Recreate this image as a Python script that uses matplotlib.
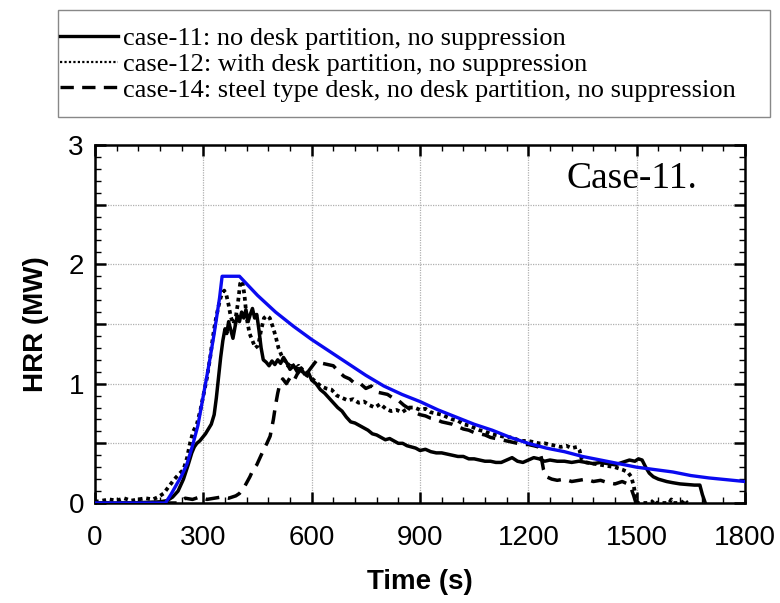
import matplotlib
matplotlib.use('Agg')
import matplotlib.pyplot as plt
from matplotlib.ticker import MultipleLocator, FuncFormatter
from matplotlib.lines import Line2D
from matplotlib.patches import Rectangle

# Curva de diseño (azul)
t_diseno = [0, 195, 210, 225, 240, 255, 270, 285, 300, 315, 330, 345, 352, 400,
            450, 500, 550, 600, 650, 700, 750, 800, 850, 900, 950, 1000, 1050,
            1100, 1150, 1200, 1250, 1300, 1350, 1400, 1450, 1500, 1550, 1600,
            1650, 1700, 1750, 1800]
hrr_diseno = [0, 0, 0.07, 0.15, 0.23, 0.33, 0.48, 0.65, 0.9, 1.15, 1.42, 1.72,
              1.9, 1.9, 1.74, 1.6, 1.48, 1.37, 1.27, 1.17, 1.07, 0.98, 0.91,
              0.85, 0.78, 0.72, 0.66, 0.61, 0.55, 0.5, 0.46, 0.43, 0.39, 0.36,
              0.33, 0.3, 0.28, 0.26, 0.23, 0.21, 0.195, 0.18]

# case-11
t_case11 = [0, 100, 180, 200, 215, 230, 245, 258, 268, 275, 282, 290, 298, 306,
            314, 322, 330, 336, 342, 348, 354, 360, 365, 370, 376, 382, 388,
            394, 400, 406, 412, 418, 424, 430, 436, 442, 448, 454, 460, 466,
            474, 482, 490, 498, 506, 514, 522, 530, 540, 550, 560, 570, 580,
            590, 600, 612, 624, 636, 648, 660, 672, 684, 696, 708, 720, 732,
            744, 756, 768, 780, 792, 804, 816, 828, 840, 852, 864, 876, 888,
            900, 915, 930, 945, 960, 975, 990, 1005, 1020, 1035, 1050, 1065,
            1080, 1095, 1110, 1125, 1140, 1155, 1170, 1185, 1200, 1215, 1230,
            1245, 1260, 1280, 1300, 1320, 1340, 1360, 1380, 1400, 1420, 1440,
            1460, 1480, 1495, 1505, 1515, 1525, 1535, 1546, 1560, 1583, 1600,
            1620, 1640, 1660, 1675, 1682, 1690]
hrr_case11 = [0, 0, 0.01, 0.02, 0.05, 0.1, 0.2, 0.32, 0.42, 0.47, 0.5, 0.52,
              0.55, 0.58, 0.62, 0.66, 0.74, 0.88, 1.05, 1.22, 1.36, 1.46, 1.42,
              1.52, 1.45, 1.38, 1.48, 1.57, 1.52, 1.6, 1.55, 1.62, 1.52, 1.58,
              1.63, 1.55, 1.58, 1.45, 1.3, 1.2, 1.18, 1.15, 1.19, 1.16, 1.2,
              1.17, 1.22, 1.18, 1.12, 1.15, 1.1, 1.13, 1.08, 1.1, 1.03, 1.0,
              0.95, 0.92, 0.88, 0.84, 0.8, 0.77, 0.72, 0.68, 0.67, 0.65, 0.63,
              0.61, 0.58, 0.57, 0.55, 0.53, 0.54, 0.52, 0.5, 0.5, 0.48, 0.47,
              0.46, 0.44, 0.45, 0.43, 0.42, 0.42, 0.41, 0.4, 0.39, 0.39, 0.37,
              0.37, 0.36, 0.35, 0.35, 0.34, 0.34, 0.36, 0.38, 0.35, 0.34, 0.36,
              0.38, 0.37, 0.35, 0.36, 0.35, 0.35, 0.34, 0.35, 0.34, 0.33, 0.34,
              0.33, 0.32, 0.34, 0.36, 0.35, 0.37, 0.36, 0.3, 0.25, 0.22, 0.2,
              0.18, 0.17, 0.16, 0.155, 0.15, 0.15, 0.07, 0.0]

# case-12
t_case12 = [0, 20, 40, 60, 80, 100, 120, 140, 160, 175, 190, 200, 210, 220,
            232, 245, 255, 263, 272, 282, 292, 300, 310, 319, 326, 332, 340,
            346, 352, 358, 364, 370, 376, 383, 390, 396, 402, 408, 414, 420,
            428, 436, 444, 452, 460, 468, 476, 484, 492, 500, 508, 516, 524,
            534, 544, 554, 564, 574, 586, 598, 610, 625, 640, 655, 670, 685,
            700, 715, 730, 745, 760, 775, 790, 805, 820, 835, 850, 870, 885,
            900, 915, 930, 945, 960, 975, 990, 1005, 1020, 1035, 1050, 1065,
            1080, 1095, 1110, 1125, 1140, 1155, 1170, 1185, 1200, 1215, 1230,
            1245, 1260, 1275, 1290, 1305, 1320, 1335, 1342, 1348, 1360, 1380,
            1400, 1420, 1440, 1460, 1475, 1485, 1492, 1497, 1502, 1540, 1548,
            1556, 1590, 1596, 1602, 1625, 1632, 1640]
hrr_case12 = [0.01, 0.02, 0.03, 0.02, 0.04, 0.02, 0.03, 0.04, 0.03, 0.05,
              0.08, 0.12, 0.16, 0.2, 0.24, 0.28, 0.38, 0.5, 0.6, 0.66, 0.78,
              0.9, 1.05, 1.22, 1.38, 1.5, 1.62, 1.7, 1.76, 1.78, 1.74, 1.66,
              1.56, 1.5, 1.56, 1.68, 1.84, 1.86, 1.74, 1.55, 1.42, 1.36, 1.3,
              1.32, 1.45, 1.55, 1.57, 1.55, 1.48, 1.4, 1.3, 1.24, 1.2, 1.15,
              1.18, 1.12, 1.15, 1.1, 1.07, 1.05, 1.02, 0.98, 0.96, 0.95, 0.9,
              0.88, 0.86, 0.87, 0.84, 0.85, 0.82, 0.8, 0.83, 0.79, 0.77, 0.78,
              0.76, 0.8, 0.8, 0.78, 0.79, 0.76, 0.75, 0.74, 0.72, 0.7, 0.69,
              0.66, 0.65, 0.63, 0.61, 0.6, 0.58, 0.57, 0.56, 0.55, 0.55, 0.53,
              0.52, 0.52, 0.51, 0.5, 0.5, 0.49, 0.48, 0.47, 0.48, 0.46, 0.47,
              0.44, 0.36, 0.34, 0.33, 0.32, 0.31, 0.3, 0.28, 0.26, 0.22, 0.14,
              0.06, 0.0, 0.0, 0.03, 0.0, 0.0, 0.03, 0.0, 0.0, 0.03, 0.0]

# case-14
t_case14 = [0, 230, 250, 270, 290, 310, 330, 350, 370, 390, 400, 411, 420,
            429, 438, 448, 457, 466, 476, 485, 494, 500, 506, 512, 520, 530,
            540, 550, 560, 570, 580, 590, 600, 615, 630, 645, 660, 675, 690,
            705, 720, 735, 750, 765, 780, 795, 810, 825, 840, 855, 870, 885,
            900, 915, 930, 945, 960, 975, 990, 1005, 1020, 1035, 1050, 1065,
            1080, 1095, 1110, 1125, 1140, 1155, 1170, 1185, 1200, 1215, 1228,
            1236, 1242, 1250, 1265, 1280, 1300, 1320, 1340, 1360, 1380, 1400,
            1420, 1440, 1460, 1475, 1485, 1492, 1498]
hrr_case14 = [0, 0, 0.04, 0.03, 0.05, 0.03, 0.04, 0.05, 0.04, 0.06, 0.08, 0.12,
              0.17, 0.22, 0.28, 0.32, 0.38, 0.44, 0.5, 0.56, 0.7, 0.82, 0.92,
              1.0, 1.04, 1.0, 1.05, 1.02, 1.08, 1.12, 1.15, 1.1, 1.14, 1.2,
              1.17, 1.16, 1.15, 1.1, 1.06, 1.04, 1.0, 1.0, 0.96, 0.98, 0.93,
              0.92, 0.91, 0.88, 0.86, 0.82, 0.79, 0.76, 0.74, 0.73, 0.71, 0.7,
              0.68, 0.67, 0.66, 0.64, 0.62, 0.61, 0.59, 0.58, 0.57, 0.55, 0.54,
              0.53, 0.52, 0.51, 0.5, 0.49, 0.49, 0.48, 0.47, 0.38, 0.28, 0.22,
              0.2, 0.19, 0.2, 0.18, 0.19, 0.2, 0.18, 0.19, 0.17, 0.16, 0.18,
              0.16, 0.12, 0.06, 0.0]

etiquetas = ['case-11: no desk partition, no suppression',
             'case-12: with desk partition, no suppression',
             'case-14: steel type desk, no desk partition, no suppression']

SANS = 'Liberation Sans'
SERIF = 'Liberation Serif'


def graficar():
    fig = plt.figure(figsize=(7.8, 6.03), dpi=100)
    ax = fig.add_axes([95 / 780, 1 - 503 / 603, 650 / 780, 358 / 603])

    # Curvas
    ax.plot(t_diseno, hrr_diseno, color='#0a0af0', lw=2.4, zorder=4)
    ax.plot(t_case11, hrr_case11, color='black', lw=2.5, ls='-', zorder=3)
    ax.plot(t_case12, hrr_case12, color='black', lw=2.7, ls=(0, (1, 1)), zorder=3)
    ax.plot(t_case14, hrr_case14, color='black', lw=2.5, ls=(0, (4, 2.5)), zorder=3)

    # Ejes
    ax.set_xlim(0, 1800)
    ax.set_ylim(0, 3)
    ax.xaxis.set_major_locator(MultipleLocator(300))
    ax.xaxis.set_minor_locator(MultipleLocator(60))
    ax.yaxis.set_major_locator(MultipleLocator(0.5))
    ax.yaxis.set_minor_locator(MultipleLocator(0.1))
    ax.yaxis.set_major_formatter(
        FuncFormatter(lambda v, p: f'{v:.0f}' if abs(v - round(v)) < 1e-6 else ''))

    ax.grid(True, which='major', color='#b0b0b0', ls=(0, (1, 1)), lw=0.9)
    ax.set_axisbelow(True)

    ax.tick_params(which='both', top=True, right=True, direction='in')
    ax.tick_params(which='major', length=8, width=1.8, labelsize=20)
    ax.tick_params(axis='x', which='major', pad=16)
    ax.tick_params(axis='y', which='major', pad=8)
    ax.tick_params(which='minor', length=4, width=1.0)
    for lab in ax.get_xticklabels() + ax.get_yticklabels():
        lab.set_fontfamily(SANS)
    for s in ax.spines.values():
        s.set_linewidth(1.8)

    ax.set_xlabel('Time (s)', fontsize=20, fontweight='bold', family=SANS, labelpad=13)
    ax.set_ylabel('HRR (MW)', fontsize=20, fontweight='bold', family=SANS, labelpad=14)

    ax.text(1305, 2.72, 'Case-11.', fontsize=27, family=SERIF, va='center')

    # Leyenda: marco dibujado aparte
    fig.patches.append(Rectangle((58 / 780, 1 - 117 / 603), 712 / 780, 107 / 603,
                                 transform=fig.transFigure, fill=False,
                                 edgecolor='#888888', lw=1.0))
    handles = [Line2D([], [], color='black', lw=2.4, ls='-'),
               Line2D([], [], color='black', lw=1.6, ls=(0, (1, 1))),
               Line2D([], [], color='black', lw=2.4, ls=(0, (4, 2.5)))]
    fig.legend(handles, etiquetas, loc='upper left',
               bbox_to_anchor=(60 / 780, 1 - 27 / 603),
               borderaxespad=0, borderpad=0, frameon=False,
               prop={'family': SERIF, 'size': 19}, handlelength=2.2,
               handletextpad=0.2, labelspacing=0.08)

    fig.savefig('out.png', dpi=100)


if __name__ == "__main__":
    graficar()
